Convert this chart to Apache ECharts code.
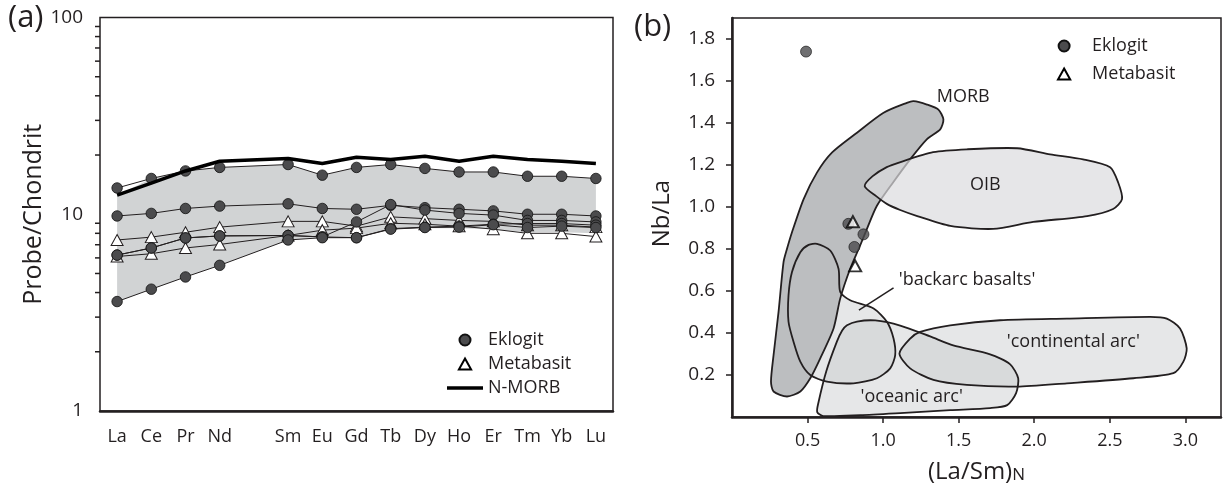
<!DOCTYPE html>
<html><head><meta charset="utf-8">
<script src="https://cdn.jsdelivr.net/npm/echarts@6/dist/echarts.min.js"></script>
<style>html,body{margin:0;padding:0;background:#fff}#c{width:1225px;height:489px}</style>
</head><body><div id="c"></div>
<script>
// ---------- Panel (a): REE pattern (chondrite normalised) ----------
const reeLabels = ['La','Ce','Pr','Nd','','Sm','Eu','Gd','Tb','Dy','Ho','Er','Tm','Yb','Lu']; // '' = Pm gap
const nmorb      = [12.5,14.4,16.6,18.6,19.2,18.1,19.5,19.0,19.7,18.6,19.7,19.0,18.6,18.1];
const eklogit1   = [13.6,15.2,16.6,17.3,17.9,15.8,17.3,17.9,17.1,16.4,16.4,15.6,15.6,15.2];
const eklogit2   = [9.8,10.1,10.7,11.0,11.3,10.7,10.6,11.1,10.8,10.6,10.4,10.0,10.0,9.8];
const eklogit3   = [6.2,6.74,7.58,7.76,7.8,7.67,9.14,11.2,10.5,10.1,9.9,9.3,9.3,9.14];
const eklogit4   = [6.2,6.74,7.58,7.76,7.8,7.67,7.6,8.45,8.6,8.7,8.9,8.97,8.97,8.8];
const eklogit5   = [3.6,4.16,4.8,5.5,7.4,7.6,7.6,8.4,8.56,8.6,8.85,8.56,8.7,8.56];
const metabasit1 = [7.4,7.65,8.1,8.6,9.2,9.2,8.7,9.7,9.5,9.3,9.2,8.8,8.8,8.6];
const metabasit2 = [6.1,6.3,6.74,7.02,7.8,8.3,8.5,9.0,8.9,8.7,8.4,8.0,8.0,7.7];
const envelopeTop    = [12.5,15.2,16.6,17.3,17.9,15.8,17.3,17.9,17.1,16.4,16.4,15.6,15.6,15.2];
const envelopeBottom = [3.6,4.16,4.8,5.5,7.4,7.6,7.6,8.4,8.5,8.5,8.4,8.1,8.1,8.0];
const minorTickValues = [2,3,4,5,6,7,8,9,20,30,40,50,60,70,80,90];

// ---------- Panel (b): Nb/La vs (La/Sm)N ----------
const xTicksB = [0.5,1.0,1.5,2.0,2.5,3.0];
const yTicksB = [0.2,0.4,0.6,0.8,1.0,1.2,1.4,1.6,1.8];
const eklogitB   = [[0.49,1.74],[0.77,0.92],[0.87,0.87],[0.81,0.81]];
const metabasitB = [[0.80,0.93],[0.815,0.72]];
const fieldMORB = [[1.157,1.496],[1.003,1.449],[0.827,1.354],[0.661,1.259],[0.562,1.164],[0.474,1.038],[0.397,0.880],[0.364,0.801],[0.341,0.738],[0.308,0.501],[0.275,0.295],[0.258,0.169],[0.275,0.122],[0.364,0.098],[0.452,0.122],[0.518,0.185],[0.584,0.280],[0.672,0.422],[0.716,0.564],[0.782,0.706],[0.848,0.817],[0.893,0.896],[0.959,1.006],[1.067,1.118],[1.179,1.227],[1.289,1.322],[1.378,1.370],[1.399,1.417],[1.366,1.464],[1.290,1.488],[1.201,1.504]];
const fieldOIB = [[0.878,1.100],[0.931,1.147],[1.024,1.190],[1.110,1.213],[1.331,1.261],[1.556,1.275],[1.887,1.280],[2.105,1.251],[2.323,1.227],[2.502,1.190],[2.555,1.118],[2.581,1.038],[2.522,0.991],[2.350,0.957],[1.993,0.929],[1.728,0.896],[1.444,0.910],[1.226,0.957],[1.113,0.986],[1.027,1.014],[0.954,1.052]];
const fieldBackarc = [[0.562,0.825],[0.650,0.793],[0.705,0.706],[0.716,0.596],[0.782,0.556],[0.937,0.517],[1.025,0.454],[1.069,0.374],[1.080,0.295],[1.047,0.232],[0.959,0.185],[0.804,0.161],[0.628,0.169],[0.518,0.200],[0.452,0.264],[0.407,0.359],[0.374,0.454],[0.374,0.580],[0.397,0.691],[0.452,0.785],[0.507,0.820]];
const fieldOceanicArc = [[0.761,0.437],[0.827,0.455],[0.948,0.460],[1.113,0.436],[1.311,0.384],[1.464,0.341],[1.708,0.299],[1.841,0.251],[1.894,0.185],[1.880,0.114],[1.821,0.057],[1.708,0.043],[1.444,0.033],[1.113,0.019],[0.849,0.009],[0.604,0.005],[0.564,0.024],[0.571,0.066],[0.624,0.218],[0.694,0.359],[0.729,0.412]];
const fieldContArc = [[1.108,0.303],[1.179,0.374],[1.245,0.406],[1.444,0.437],[1.774,0.461],[2.216,0.469],[2.767,0.477],[2.877,0.469],[2.965,0.422],[3.009,0.327],[2.987,0.264],[2.921,0.209],[2.656,0.185],[2.216,0.161],[1.885,0.145],[1.554,0.153],[1.333,0.177],[1.179,0.232]];
const fieldLabelText = ['MORB','OIB',"'backarc basalts'","'continental arc'","'oceanic arc'"];
const fieldLabelPos  = [[1.53,1.526],[1.676,1.104],[1.556,0.651],[2.259,0.359],[1.189,0.098]];
const leaderLine = [[1.069,0.615],[0.840,0.509]];

const TXT = '#231f20';
const FONT = 'Open Sans';
const withGap = a => [...a.slice(0,4), null, ...a.slice(4)];
const catIdx = i => (i < 4 ? i : i + 1);

const circleStyle = {color:'#4b4b4d', borderColor:'#111', borderWidth:0.8};
const triStyle = {color:'#fff', borderColor:TXT, borderWidth:1};

function eklogitLine(arr){
  return {type:'line', name:'Eklogit', xAxisIndex:0, yAxisIndex:0, data:withGap(arr), connectNulls:true,
    symbol:'circle', symbolSize:10.5, itemStyle:circleStyle, lineStyle:{color:TXT, width:1}, z:4, silent:true};
}
function metaLine(arr){
  return {type:'line', name:'Metabasit', xAxisIndex:0, yAxisIndex:0, data:withGap(arr), connectNulls:true,
    symbol:'triangle', symbolSize:[12,11], itemStyle:triStyle, lineStyle:{color:TXT, width:1}, z:3, silent:true};
}
function fieldSeries(pts, style, z){
  return {type:'custom', xAxisIndex:1, yAxisIndex:1, z:z, silent:true, clip:false, data:[pts[0]],
    renderItem:(p, api) => ({type:'polygon', shape:{points:pts.map(q => api.coord(q)), smooth:0.25}, style:style})};
}
const lightFill = 'rgba(200,202,204,0.45)';

const option = {
  animation:false,
  textStyle:{fontFamily:FONT, color:TXT},
  title:[
    {text:'(a)', left:8, top:3, padding:0, textStyle:{fontFamily:FONT, fontSize:31, fontWeight:'normal', color:TXT}},
    {text:'(b)', left:634, top:12, padding:0, textStyle:{fontFamily:FONT, fontSize:31, fontWeight:'normal', color:TXT}}
  ],
  legend:[
    {orient:'vertical', left:447, top:331, padding:0, itemWidth:36, itemHeight:11, itemGap:6, selectedMode:false,
     textStyle:{fontFamily:FONT, fontSize:18, color:TXT},
     data:[{name:'Eklogit', icon:'circle'},
           {name:'Metabasit', icon:'path://M5,0L10,9L0,9Z', itemStyle:{color:'#fff', borderColor:'#000', borderWidth:2}},
           {name:'N-MORB', icon:'path://M0,0H36V3.5H0Z', itemStyle:{color:'#000', borderWidth:0}}]},
    {orient:'vertical', left:1057, top:37, padding:0, itemWidth:46, itemHeight:11, itemGap:10, selectedMode:false,
     textStyle:{fontFamily:FONT, fontSize:18, color:TXT},
     data:[{name:'Eklogit', icon:'circle'},
           {name:'Metabasit', icon:'path://M5,0L10,9L0,9Z', itemStyle:{color:'#fff', borderColor:'#000', borderWidth:2}}]}
  ],
  grid:[
    {left:100, top:17.5, width:513, height:393.5, show:true, borderColor:TXT, borderWidth:1.5, backgroundColor:'transparent'},
    {left:732, top:18, width:489, height:401, show:true, borderColor:TXT, borderWidth:1.5, backgroundColor:'transparent'}
  ],
  xAxis:[
    {type:'category', gridIndex:0, data:reeLabels, boundaryGap:true,
     axisLine:{lineStyle:{color:TXT, width:2.5}},
     axisTick:{alignWithLabel:true, interval:(i, v) => v !== '', length:7, lineStyle:{color:TXT, width:1.5}},
     axisLabel:{interval:0, margin:17, fontSize:18, color:TXT, fontFamily:FONT},
     splitLine:{show:false}},
    {type:'value', gridIndex:1, min:0, max:3.236,
     axisLine:{onZero:false, lineStyle:{color:TXT, width:2.5}},
     axisTick:{customValues:xTicksB, length:6, lineStyle:{color:TXT, width:1.5}},
     axisLabel:{customValues:xTicksB, formatter:v => v.toFixed(1), margin:15, fontSize:18, color:TXT, fontFamily:FONT},
     splitLine:{show:false},
     name:'{a|(La/Sm)}{b|N}', nameLocation:'middle', nameGap:34,
     nameTextStyle:{rich:{a:{fontSize:24, lineHeight:24, verticalAlign:'top', fontFamily:FONT, color:TXT},
                          b:{fontSize:17, lineHeight:17, padding:[12,0,0,0], verticalAlign:'bottom', fontFamily:FONT, color:TXT}}}}
  ],
  yAxis:[
    {type:'log', logBase:10, gridIndex:0, min:1, max:100,
     axisLine:{onZero:false, lineStyle:{color:TXT, width:2.5}},
     axisTick:{length:8, lineStyle:{color:TXT, width:1.5}},
     axisLabel:{margin:17, fontSize:19, color:TXT, fontFamily:FONT},
     splitLine:{show:false}, minorTick:{show:false},
     name:'Probe/Chondrit', nameLocation:'middle', nameGap:52, nameRotate:90,
     nameTextStyle:{fontSize:25, fontFamily:FONT, color:TXT}},
    {type:'value', gridIndex:1, min:0, max:1.9,
     axisLine:{onZero:false, lineStyle:{color:TXT, width:2.5}},
     axisTick:{customValues:yTicksB, length:6, lineStyle:{color:TXT, width:1.5}},
     axisLabel:{customValues:yTicksB, formatter:v => v.toFixed(1), margin:17, fontSize:19, color:TXT, fontFamily:FONT},
     splitLine:{show:false},
     name:'Nb/La', nameLocation:'middle', nameGap:58, nameRotate:90,
     nameTextStyle:{fontSize:24, fontFamily:FONT, color:TXT, padding:[0,0,0,8]}}
  ],
  series:[
    // grey envelope
    {type:'custom', xAxisIndex:0, yAxisIndex:0, z:1, silent:true, clip:false, data:[[0,5]],
     renderItem:(p, api) => {
       const pts = [];
       envelopeTop.forEach((v, i) => pts.push(api.coord([catIdx(i), v])));
       for (let i = envelopeBottom.length - 1; i >= 0; i--) pts.push(api.coord([catIdx(i), envelopeBottom[i]]));
       return {type:'polygon', shape:{points:pts}, style:{fill:'#d1d3d4'}};
     }},
    // minor log ticks
    {type:'custom', xAxisIndex:0, yAxisIndex:0, z:5, silent:true, clip:false, data:minorTickValues.map(v => [0, v]),
     renderItem:(p, api) => {
       const y = api.coord([0, api.value(1)])[1];
       const x = p.coordSys.x;
       return {type:'line', shape:{x1:x - 5, y1:y, x2:x, y2:y}, style:{stroke:TXT, lineWidth:1.5}};
     }},
    metaLine(metabasit1), metaLine(metabasit2),
    eklogitLine(eklogit1), eklogitLine(eklogit2), eklogitLine(eklogit3), eklogitLine(eklogit4), eklogitLine(eklogit5),
    {type:'line', name:'N-MORB', xAxisIndex:0, yAxisIndex:0, data:withGap(nmorb), connectNulls:true, symbol:'none',
     itemStyle:{color:'#000'}, lineStyle:{color:'#000', width:3.5}, z:5, silent:true},

    // panel b fields
    fieldSeries(fieldBackarc, {fill:lightFill}, 1),
    fieldSeries(fieldOceanicArc, {fill:lightFill}, 1),
    fieldSeries(fieldContArc, {fill:lightFill}, 1),
    fieldSeries(fieldMORB, {fill:'#bcbec0', stroke:TXT, lineWidth:1.8}, 2),
    fieldSeries(fieldOIB, {fill:'rgba(219,220,222,0.7)'}, 3),
    fieldSeries(fieldBackarc, {fill:'none', stroke:TXT, lineWidth:1.8}, 4),
    fieldSeries(fieldOceanicArc, {fill:'none', stroke:TXT, lineWidth:1.8}, 4),
    fieldSeries(fieldContArc, {fill:'none', stroke:TXT, lineWidth:1.8}, 4),
    fieldSeries(fieldOIB, {fill:'none', stroke:TXT, lineWidth:1.8}, 4),
    {type:'line', xAxisIndex:1, yAxisIndex:1, data:leaderLine, symbol:'none', lineStyle:{color:TXT, width:1.5}, z:4, silent:true},
    {type:'custom', xAxisIndex:1, yAxisIndex:1, z:5, silent:true, clip:false, data:fieldLabelPos,
     renderItem:(p, api) => {
       const c = api.coord([api.value(0), api.value(1)]);
       return {type:'text', x:c[0], y:c[1], style:{text:fieldLabelText[p.dataIndex], fill:TXT, font:'18px "' + FONT + '"', align:'center', verticalAlign:'middle'}};
     }},
    {type:'scatter', name:'Eklogit', xAxisIndex:1, yAxisIndex:1, data:eklogitB, symbol:'circle', symbolSize:11,
     itemStyle:circleStyle, z:6, silent:true},
    {type:'scatter', name:'Metabasit', xAxisIndex:1, yAxisIndex:1, data:metabasitB, symbol:'triangle', symbolSize:[12,11],
     itemStyle:{color:'#fff', borderColor:'#000', borderWidth:2}, z:6, silent:true}
  ]
};
const chart = echarts.init(document.getElementById('c'), null, {renderer:'canvas'});
chart.setOption(option);
</script></body></html>
